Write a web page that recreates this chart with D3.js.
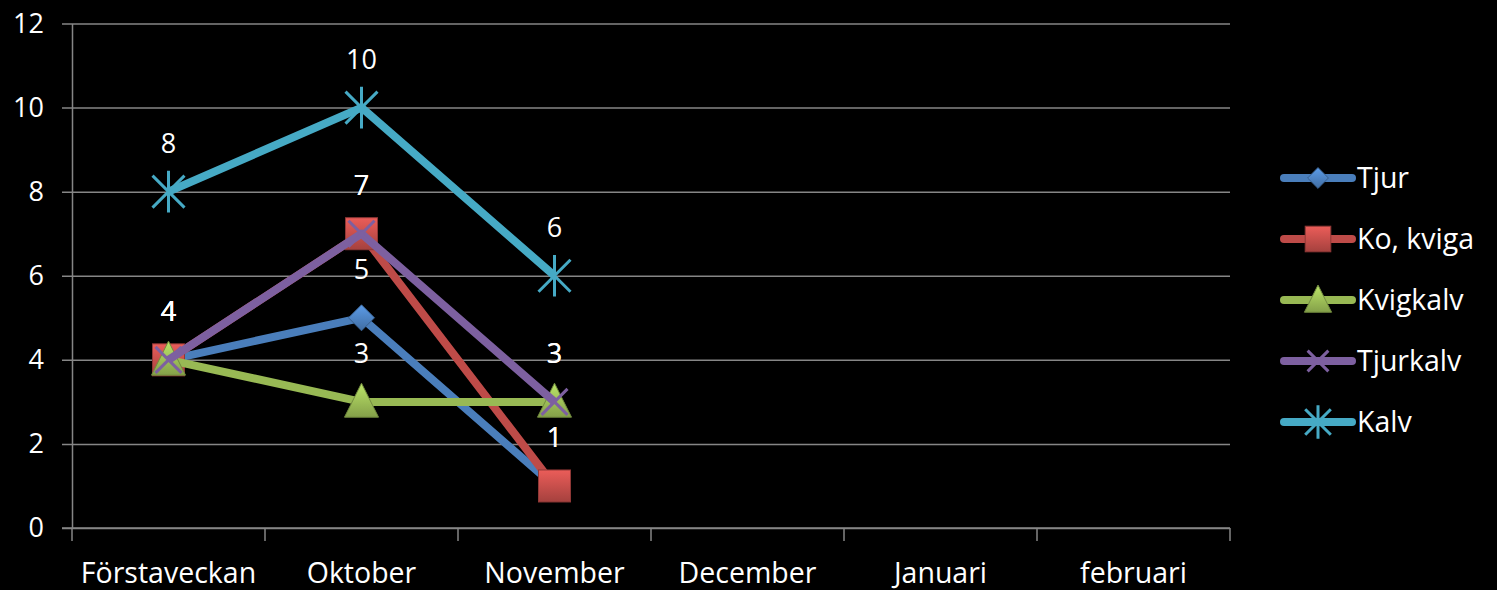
<!DOCTYPE html>
<html>
<head>
<meta charset="utf-8">
<script src="https://cdn.jsdelivr.net/npm/d3@7"></script>
<style>
  body { margin: 0; background: #000; }
  svg { display: block; }
  text { font-family: "Open Sans", "DejaVu Sans", sans-serif; fill: #fff; }
</style>
</head>
<body>
<div id="chart"></div>
<script>
var categories = ["Förstaveckan", "Oktober", "November", "December", "Januari", "februari"];
var seriesNames = ["Tjur", "Ko, kviga", "Kvigkalv", "Tjurkalv", "Kalv"];
var tjur = [4, 5, 1];
var koKviga = [4, 7, 1];
var kvigkalv = [4, 3, 3];
var tjurkalv = [4, 7, 3];
var kalv = [8, 10, 6];
var yTicks = [0, 2, 4, 6, 8, 10, 12];

var colors = ["#4a7ebb", "#be4b48", "#98b954", "#7d60a0", "#46aac5"];
var markers = ["diamond", "square", "triangle", "x", "star"];
var values = [tjur, koKviga, kvigkalv, tjurkalv, kalv];

var width = 1497;
var height = 590;
var svg = d3.select("#chart").append("svg")
  .attr("width", width)
  .attr("height", height);

var mLeft = 72, mRight = 1230, mTop = 23.5, mBottom = 528;

var x = d3.scaleBand().domain(categories).range([mLeft, mRight]);
var y = d3.scaleLinear().domain([0, 12]).range([mBottom, mTop]);

// gradients for the shaded markers
var defs = svg.append("defs");
colors.forEach(function(c, i) {
  var g = defs.append("linearGradient")
    .attr("id", "grad" + i)
    .attr("x1", 0).attr("y1", 0).attr("x2", 0).attr("y2", 1);
  g.append("stop").attr("offset", "0%").attr("stop-color", d3.color(c).brighter(0.6));
  g.append("stop").attr("offset", "100%").attr("stop-color", d3.color(c).darker(0.4));
});

// y grid + ticks
svg.append("g")
  .attr("transform", "translate(" + mLeft + ",0)")
  .call(d3.axisLeft(y).tickValues(yTicks).tickSize(-(mRight - mLeft)).tickPadding(28).tickSizeOuter(0))
  .call(function(g) {
    g.select(".domain").attr("stroke", "#868686").attr("stroke-width", 1.5);
    g.selectAll(".tick line").attr("stroke", "#868686").attr("stroke-width", 1.5)
      .attr("x1", -10);
    g.selectAll(".tick text").attr("font-size", 27).attr("fill", "#fff")
      .style("font-family", "'Open Sans', sans-serif");
  });

// x axis
var xAxis = svg.append("g")
  .attr("transform", "translate(0," + mBottom + ")");
xAxis.append("line")
  .attr("x1", mLeft - 10).attr("x2", mRight)
  .attr("stroke", "#868686").attr("stroke-width", 1.5);
var tickPos = categories.map(function(c) { return x(c); }).concat([mRight]);
xAxis.selectAll(".xt").data(tickPos).enter().append("line")
  .attr("x1", function(d) { return d; }).attr("x2", function(d) { return d; })
  .attr("y1", 0).attr("y2", 13)
  .attr("stroke", "#868686").attr("stroke-width", 1.5);
xAxis.selectAll(".xl").data(categories).enter().append("text")
  .attr("x", function(d) { return x(d) + x.bandwidth() / 2; })
  .attr("y", 55)
  .attr("text-anchor", "middle")
  .attr("font-size", 28.5)
  .text(function(d) { return d; });

var line = d3.line()
  .x(function(d, i) { return x(categories[i]) + x.bandwidth() / 2; })
  .y(function(d) { return y(d); });

function drawMarker(g, type, i, cx, cy, s) {
  var c = colors[i];
  if (type === "diamond") {
    g.append("path")
      .attr("d", "M" + cx + "," + (cy - s) + "L" + (cx + s) + "," + cy + "L" + cx + "," + (cy + s) + "L" + (cx - s) + "," + cy + "Z")
      .attr("fill", "url(#grad" + i + ")").attr("stroke", d3.color(c).darker(0.8)).attr("stroke-width", 1);
  } else if (type === "square") {
    g.append("rect")
      .attr("x", cx - s).attr("y", cy - s).attr("width", 2 * s).attr("height", 2 * s)
      .attr("fill", "url(#grad" + i + ")").attr("stroke", d3.color(c).darker(0.8)).attr("stroke-width", 1);
  } else if (type === "triangle") {
    g.append("path")
      .attr("d", "M" + cx + "," + (cy - s * 1.1) + "L" + (cx + s) + "," + (cy + s * 0.9) + "L" + (cx - s) + "," + (cy + s * 0.9) + "Z")
      .attr("fill", "url(#grad" + i + ")").attr("stroke", d3.color(c).darker(0.8)).attr("stroke-width", 1);
  } else if (type === "x") {
    g.append("path")
      .attr("d", "M" + (cx - s) + "," + (cy - s) + "L" + (cx + s) + "," + (cy + s) + "M" + (cx + s) + "," + (cy - s) + "L" + (cx - s) + "," + (cy + s))
      .attr("stroke", c).attr("stroke-width", 3);
  } else if (type === "star") {
    g.append("path")
      .attr("d", "M" + (cx - s) + "," + (cy - s) + "L" + (cx + s) + "," + (cy + s) + "M" + (cx + s) + "," + (cy - s) + "L" + (cx - s) + "," + (cy + s) +
        "M" + cx + "," + (cy - s * 1.3) + "L" + cx + "," + (cy + s * 1.3))
      .attr("stroke", c).attr("stroke-width", 3);
  }
}

var markerSize = [13, 16, 17, 13, 16];

values.forEach(function(vals, i) {
  var g = svg.append("g");
  g.append("path")
    .datum(vals)
    .attr("d", line)
    .attr("fill", "none")
    .attr("stroke", colors[i])
    .attr("stroke-width", 8)
    .attr("stroke-linejoin", "round");
  vals.forEach(function(v, j) {
    drawMarker(g, markers[i], i, x(categories[j]) + x.bandwidth() / 2, y(v), markerSize[i]);
  });
});

// data labels
values.forEach(function(vals, i) {
  svg.append("g").selectAll("text").data(vals).enter().append("text")
    .attr("x", function(d, j) { return x(categories[j]) + x.bandwidth() / 2; })
    .attr("y", function(d) { return y(d) - 39; })
    .attr("text-anchor", "middle")
    .attr("font-size", 27)
    .text(function(d) { return d; });
});

// legend
var legend = svg.append("g");
seriesNames.forEach(function(name, i) {
  var ly = 178 + i * 61;
  legend.append("line")
    .attr("x1", 1284).attr("x2", 1352).attr("y1", ly).attr("y2", ly)
    .attr("stroke", colors[i]).attr("stroke-width", 8).attr("stroke-linecap", "round");
  drawMarker(legend, markers[i], i, 1318, ly, markerSize[i] * 0.8);
  legend.append("text")
    .attr("x", 1357).attr("y", ly + 10)
    .attr("font-size", 28.5)
    .text(name);
});
</script>
</body>
</html>
